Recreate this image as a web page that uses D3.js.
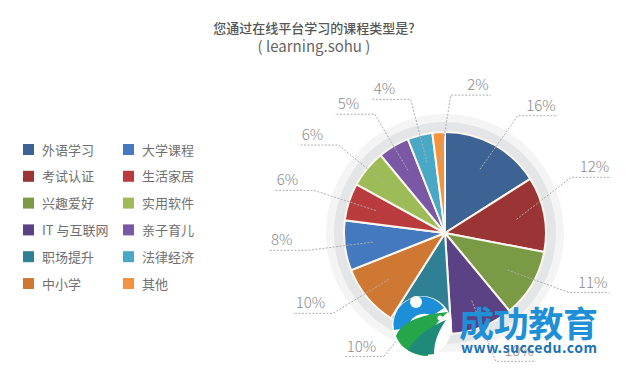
<!DOCTYPE html>
<html>
<head>
<meta charset="utf-8">
<script src="https://cdn.jsdelivr.net/npm/d3@7"></script>
<style>
  body { margin: 0; background: #fff; }
  text { font-family: "Noto Sans CJK SC", "Noto Sans", sans-serif; }
</style>
</head>
<body>
<div id="chart"></div>
<script>
// chart data
const titleLines = ['您通过在线平台学习的课程类型是?', '( learning.sohu )'];
const categories = ['外语学习', '考试认证', '兴趣爱好', 'IT 与互联网', '职场提升', '中小学',
                    '大学课程', '生活家居', '实用软件', '亲子育儿', '法律经济', '其他'];
const shares = [16, 12, 11, 10, 10, 10, 8, 6, 6, 5, 4, 2];
const colors = ['#3d6394', '#9b3535', '#7b9a46', '#5b4284', '#2f7f95', '#cf7834',
                '#4579bf', '#ba3b3d', '#9dbb56', '#7a58a5', '#48a8c6', '#f39340'];

// layout variables
var width = 626;
var height = 369;
var cx = 445, cy = 233;
var pieR = 101;
var labelR = 138;
var underLen = 40;
// hand nudges (degrees) so labels don't crowd, like the original
var labelNudge = {0: 3, 1: -13, 2: -5, 4: 12, 5: 4, 11: 6};

var svg = d3.select('#chart')
  .append('svg')
    .attr('width', width)
    .attr('height', height);

svg.append('rect')
    .attr('width', width)
    .attr('height', height)
    .attr('fill', '#fff');

// title
svg.selectAll('.title')
  .data(titleLines)
  .enter()
  .append('text')
    .attr('class', 'title')
    .attr('x', 314)
    .attr('y', (d, i) => 33 + i * 19)
    .attr('text-anchor', 'middle')
    .attr('fill', (d, i) => i ? '#666' : '#555')
    .attr('font-size', (d, i) => i ? 15 : 13)
    .attr('font-weight', (d, i) => i ? 400 : 500)
    .text(d => d);

// legend: two columns of six
var legend = svg.append('g').attr('transform', 'translate(23,144)');
var item = legend.selectAll('g')
  .data(categories)
  .enter()
  .append('g')
    .attr('transform', (d, i) => 'translate(' + (Math.floor(i / 6) * 100) + ',' + ((i % 6) * 26.8) + ')');
item.append('rect')
    .attr('width', 11)
    .attr('height', 11)
    .attr('fill', (d, i) => colors[i]);
item.append('text')
    .attr('x', 19)
    .attr('y', 10.5)
    .attr('font-size', 13)
    .attr('fill', '#707070')
    .text(d => d);

// pie
var g = svg.append('g').attr('transform', 'translate(' + cx + ',' + cy + ')');

g.append('circle').attr('r', pieR + 18).attr('fill', '#f4f4f4');
g.append('circle').attr('r', pieR + 10).attr('fill', '#e4e5e6');

var pie = d3.pie().sort(null).value(d => d);
var arcs = pie(shares);
var arc = d3.arc().innerRadius(0).outerRadius(pieR);

g.selectAll('path.slice')
  .data(arcs)
  .enter()
  .append('path')
    .attr('class', 'slice')
    .attr('d', arc)
    .attr('fill', (d, i) => colors[i])
    .attr('stroke', '#fbf6ee')
    .attr('stroke-width', 2);

// labels with dashed leader lines
function polar(a, r) { return [Math.sin(a) * r, -Math.cos(a) * r]; }

var lab = g.selectAll('g.lab')
  .data(arcs)
  .enter()
  .append('g')
    .attr('class', 'lab');

lab.each(function(d, i) {
  var a = (d.startAngle + d.endAngle) / 2 + (labelNudge[i] || 0) * Math.PI / 180;
  var right = Math.sin(a) > -0.1;
  var p0 = polar((d.startAngle + d.endAngle) / 2, pieR * 0.72);
  var p1 = polar(a, labelR);
  var p2 = [p1[0] + (right ? underLen : -underLen), p1[1]];
  var sel = d3.select(this);
  sel.append('path')
      .attr('d', d3.line()([p0, p1, p2]))
      .attr('fill', 'none')
      .attr('stroke', '#aeaeae')
      .attr('stroke-width', 1)
      .attr('stroke-dasharray', '2,1.5');
  sel.append('text')
      .attr('x', right ? p2[0] - 2 : p2[0] + 3)
      .attr('y', p1[1] - 5)
      .attr('text-anchor', right ? 'end' : 'start')
      .attr('font-family', '"Open Sans", sans-serif')
      .attr('font-size', 15)
      .attr('font-weight', 300)
      .attr('fill', '#8a8a8a')
      .text(d.data + '%');
});

// watermark overlay
var wm = svg.append('g').attr('transform', 'translate(422,326)');
wm.append('circle').attr('r', 30).attr('fill', '#fff');
wm.append('path')
    .attr('d', 'M-28,4 A28,28 0 0 1 22,-18 L10,-10 A16,16 0 0 0 -14,2 Z')
    .attr('fill', '#1d8ed8');
wm.append('path')
    .attr('d', 'M-26,10 C-20,-6 4,-12 26,-14 C14,-4 4,10 6,30 C-8,30 -22,22 -26,10 Z')
    .attr('fill', '#25a64a');
wm.append('path')
    .attr('d', 'M-14,24 C-4,8 10,0 24,-6 C16,6 12,16 12,28 C2,30 -8,28 -14,24 Z')
    .attr('fill', '#1f8a7a');
wm.append('circle').attr('cx', -6).attr('cy', -24).attr('r', 6).attr('fill', '#fff');
wm.append('circle').attr('cx', 18).attr('cy', -8).attr('r', 2.5).attr('fill', '#fff');

svg.append('text')
    .attr('x', 459)
    .attr('y', 337)
    .attr('font-size', 35)
    .attr('font-weight', 700)
    .attr('textLength', 139)
    .attr('fill', '#1f8fd6')
    .text('成功教育');
svg.append('text')
    .attr('x', 461)
    .attr('y', 353)
    .attr('font-family', '"DejaVu Sans", sans-serif')
    .attr('font-size', 14)
    .attr('font-weight', 700)
    .attr('textLength', 136)
    .attr('fill', '#1b72b5')
    .text('www.succedu.com');
</script>
</body>
</html>
